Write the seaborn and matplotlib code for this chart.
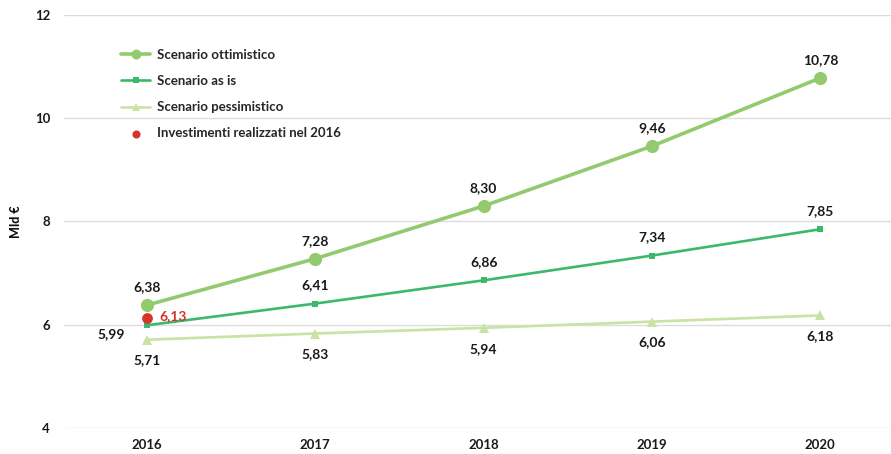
import matplotlib
matplotlib.use("Agg")
import matplotlib.pyplot as plt
import seaborn as sns
import pandas as pd

anni = ["2016", "2017", "2018", "2019", "2020"]
ottimistico = [6.38, 7.28, 8.30, 9.46, 10.78]
as_is = [5.99, 6.41, 6.86, 7.34, 7.85]
pessimistico = [5.71, 5.83, 5.94, 6.06, 6.18]
realizzati_anno = "2016"
realizzati_valore = 6.13
y_ticks = [4, 6, 8, 10, 12]

sns.set_theme(style="white")
plt.rcParams["font.family"] = ["Lato", "DejaVu Sans"]

df = pd.DataFrame({"Anno": anni, "ott": ottimistico, "asis": as_is, "pess": pessimistico})

fig = plt.figure(figsize=(8.91, 4.54), dpi=100)
ax = fig.add_axes([0.0718, 0.0573, 0.9282, 0.9097])

c_ott = "#93CA6E"
c_asis = "#3CB86B"
c_pess = "#C8E3A4"
c_red = "#D9322B"

sns.lineplot(data=df, x="Anno", y="pess", ax=ax, color=c_pess, linewidth=1.9,
             marker="^", markersize=7, markeredgewidth=0, label="Scenario pessimistico", sort=False)
sns.lineplot(data=df, x="Anno", y="asis", ax=ax, color=c_asis, linewidth=1.9,
             marker="s", markersize=5, markeredgewidth=0, label="Scenario as is", sort=False)
sns.lineplot(data=df, x="Anno", y="ott", ax=ax, color=c_ott, linewidth=2.6,
             marker="o", markersize=9.5, markeredgewidth=0, label="Scenario ottimistico", sort=False)
sns.scatterplot(x=[realizzati_anno], y=[realizzati_valore], ax=ax, color=c_red, s=60,
                linewidth=0, label="Investimenti realizzati nel 2016", zorder=5)

def fmt(v):
    return f"{v:.2f}".replace(".", ",")

fs = 10
for i, v in enumerate(ottimistico):
    ax.annotate(fmt(v), (i, v), xytext=(0, 13), textcoords="offset points",
                ha="center", va="center", fontsize=fs, fontweight="bold", color="#1a1a1a")
for i, v in enumerate(as_is):
    if i == 0:
        ax.annotate(fmt(v), (i, v), xytext=(-26, -6), textcoords="offset points",
                    ha="center", va="center", fontsize=fs, fontweight="bold", color="#1a1a1a")
    else:
        ax.annotate(fmt(v), (i, v), xytext=(0, 13), textcoords="offset points",
                    ha="center", va="center", fontsize=fs, fontweight="bold", color="#1a1a1a")
for i, v in enumerate(pessimistico):
    ax.annotate(fmt(v), (i, v), xytext=(0, -15), textcoords="offset points",
                ha="center", va="center", fontsize=fs, fontweight="bold", color="#1a1a1a")
ax.annotate(fmt(realizzati_valore), (anni.index(realizzati_anno), realizzati_valore),
            xytext=(19, 1.5), textcoords="offset points", ha="center", va="center",
            fontsize=fs, fontweight="bold", color=c_red)

ax.set_ylim(4, 12)
ax.set_xlim(-0.493, 4.42)
ax.set_yticks(y_ticks)
ax.set_yticklabels([str(t) for t in y_ticks])
ax.grid(axis="y", color="#dcdcdc", linewidth=1)
ax.grid(axis="x", visible=False)
for s in ax.spines.values():
    s.set_visible(False)
ax.tick_params(axis="both", length=0, labelsize=9.5, colors="#1a1a1a")
ax.tick_params(axis="y", pad=10)
ax.tick_params(axis="x", pad=8)
for lab in ax.get_xticklabels() + ax.get_yticklabels():
    lab.set_fontweight("bold")
ax.set_xlabel("")
ax.set_ylabel("Mld €", fontsize=9, fontweight="black", color="#111111")
ax.yaxis.set_label_coords(-0.051, 0.5)

handles, labels = ax.get_legend_handles_labels()
order = [labels.index(l) for l in ["Scenario ottimistico", "Scenario as is",
                                   "Scenario pessimistico", "Investimenti realizzati nel 2016"]]
leg = ax.legend([handles[k] for k in order], [labels[k] for k in order],
                loc="upper left", bbox_to_anchor=(0.055, 0.947), frameon=False,
                handlelength=2.2, handletextpad=0.5, labelspacing=1.08, markerscale=0.75,
                prop={"family": ["Lato", "DejaVu Sans"], "weight": "bold", "size": 9.5})

fig.savefig("out.png", dpi=100)
